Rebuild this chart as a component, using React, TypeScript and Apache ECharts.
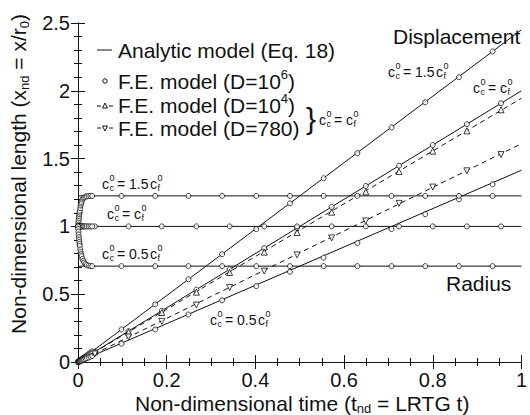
import React, { useEffect, useRef } from "react";
import * as echarts from "echarts";

// ---------- data ----------
const xTicks = [0, 0.2, 0.4, 0.6, 0.8, 1];
const yTicks = [0, 0.5, 1, 1.5, 2, 2.5];

// analytic model (Eq. 18): straight lines over the whole time range
const lineT = [0, 1];
const anaDisp15 = [0, 2.45];
const anaDisp10 = [0, 2.0];
const anaDisp05 = [0, 1.414];
const anaRad15 = [1.225, 1.225];
const anaRad10 = [1.0, 1.0];
const anaRad05 = [0.707, 0.707];

// F.E. sampling times
const tA = [0.098, 0.174, 0.249, 0.325, 0.402, 0.478, 0.554, 0.63, 0.707, 0.783, 0.859, 0.935];
const tB = [0.038, 0.114, 0.189, 0.267, 0.342, 0.42, 0.494, 0.572, 0.649, 0.724, 0.8, 0.877, 0.954];
const tEarly = [0, 0.0005, 0.001, 0.0015, 0.002, 0.0025, 0.003, 0.0035, 0.004, 0.005, 0.006, 0.007, 0.008, 0.01, 0.012, 0.014, 0.017, 0.02, 0.024, 0.028, 0.032];

// F.E. model D=10^6 (circles)
const feDisp15 = [0.24, 0.425, 0.61, 0.795, 0.98, 1.17, 1.355, 1.54, 1.73, 1.915, 2.1, 2.29];
const feDisp10 = [0.076, 0.228, 0.378, 0.534, 0.684, 0.84, 0.988, 1.144, 1.298, 1.448, 1.6, 1.754, 1.908];
const feDisp05 = [0.135, 0.24, 0.35, 0.455, 0.56, 0.665, 0.77, 0.877, 0.98, 1.09, 1.2, 1.31];
const feRad15 = [1.225, 1.225, 1.225, 1.225, 1.225, 1.225, 1.225, 1.225, 1.225, 1.225, 1.225, 1.225];
const feRad10 = [1.0, 1.0, 1.0, 1.0, 1.0, 1.0, 1.0, 1.0, 1.0, 1.0, 1.0, 1.0, 1.0];
const feRad05 = [0.707, 0.707, 0.707, 0.707, 0.707, 0.707, 0.707, 0.707, 0.707, 0.707, 0.707, 0.707];

// early-time F.E. results (dense circles near the origin)
const earlyRad15 = [1.0, 1.015, 1.03, 1.045, 1.06, 1.075, 1.09, 1.102, 1.115, 1.135, 1.155, 1.168, 1.18, 1.197, 1.207, 1.214, 1.219, 1.222, 1.224, 1.225, 1.225];
const earlyRad10 = [1.0, 1.0, 1.0, 1.0, 1.0, 1.0, 1.0, 1.0, 1.0, 1.0, 1.0, 1.0, 1.0, 1.0, 1.0, 1.0, 1.0, 1.0, 1.0, 1.0, 1.0];
const earlyRad05 = [1.0, 0.98, 0.96, 0.94, 0.92, 0.902, 0.885, 0.87, 0.855, 0.83, 0.81, 0.794, 0.78, 0.76, 0.745, 0.733, 0.722, 0.715, 0.71, 0.708, 0.707];
const earlyDisp15 = [0, 0.0012, 0.0025, 0.0037, 0.005, 0.0062, 0.0074, 0.0086, 0.0098, 0.0123, 0.0147, 0.0172, 0.0196, 0.0245, 0.0294, 0.0343, 0.0417, 0.049, 0.0588, 0.0686, 0.0784];
const earlyDisp10 = [0, 0.001, 0.002, 0.003, 0.004, 0.005, 0.006, 0.007, 0.008, 0.01, 0.012, 0.014, 0.016, 0.02, 0.024, 0.028, 0.034, 0.04, 0.048, 0.056, 0.064];
const earlyDisp05 = [0, 0.0007, 0.0014, 0.0021, 0.0028, 0.0035, 0.0042, 0.0049, 0.0056, 0.0071, 0.0085, 0.0099, 0.0113, 0.0141, 0.0169, 0.0197, 0.024, 0.0282, 0.0338, 0.0395, 0.0451];

// F.E. model D=10^4 (triangles) and D=780 (inverted triangles), c_c = c_f
const fe10k = [0.074, 0.22, 0.365, 0.515, 0.66, 0.81, 0.955, 1.105, 1.255, 1.405, 1.555, 1.705, 1.86];
const fe780 = [0.06, 0.185, 0.3, 0.42, 0.55, 0.67, 0.79, 0.915, 1.04, 1.17, 1.29, 1.41, 1.53];
const dash10k = [0, 1.945];
const dash780 = [0, 1.61];

// ---------- helpers ----------
const FONT = "Liberation Sans, Arial, Helvetica, sans-serif";
const zip = (xs: number[], ys: number[]) => xs.map((x, i) => [x, ys[i]]);

let measureCtx: CanvasRenderingContext2D | null = null;
function textWidth(s: string, size: number) {
  if (!measureCtx) measureCtx = document.createElement("canvas").getContext("2d");
  if (!measureCtx) return s.length * size * 0.55;
  measureCtx.font = `${size}px ${FONT}`;
  return measureCtx.measureText(s).width;
}

const lineSeries = (ys: number[], dashed = false) => ({
  type: "line",
  data: zip(lineT, ys),
  symbol: "none",
  lineStyle: { color: "#111", width: 1, type: dashed ? [5, 4] : "solid" },
  z: 2,
});
const markerSeries = (xs: number[], ys: number[], symbol: string, rotate = 0, size = 5) => ({
  type: "scatter",
  data: zip(xs, ys),
  symbol,
  symbolRotate: rotate,
  symbolSize: size,
  itemStyle: { color: "#fff", borderColor: "#111", borderWidth: 1 },
  z: 3,
});

// a run of text pieces, each with its own size and vertical shift (for sup/subscripts)
type Piece = { t: string; size: number; dy?: number };
function textRun(x: number, y: number, pieces: Piece[], rotate = false) {
  const els: any[] = [];
  const total = pieces.reduce((s, p) => s + textWidth(p.t, p.size), 0);
  let cx = rotate ? -total / 2 : 0;
  for (const p of pieces) {
    const dy = p.dy || 0;
    const style = { text: p.t, fontSize: p.size, lineHeight: p.size, fontFamily: FONT, fill: "#111", align: "left", verticalAlign: "middle" };
    if (rotate) {
      els.push({ type: "text", x: x + dy, y: y - cx, rotation: Math.PI / 2, style });
    } else {
      els.push({ type: "text", x: x + cx, y: y + dy, style });
    }
    cx += textWidth(p.t, p.size);
  }
  return els;
}

function cLabel(x: number, y: number, coef: string, sub: string) {
  const fs = 14;
  const sm = 9;
  const els: any[] = [];
  const t = (tx: number, ty: number, text: string, size: number) =>
    els.push({ type: "text", x: tx, y: ty, style: { fontFamily: FONT, fill: "#111", text, fontSize: size, lineHeight: size, align: "left", verticalAlign: "middle" } });
  t(x, y, "c", fs);
  t(x + 7.5, y - 6, "0", sm);
  t(x + 7.5, y + 4, "c", sm);
  const eq = coef ? "= " + coef : "=";
  t(x + 15, y, eq, fs);
  const x2 = coef ? x + 48 : x + 27;
  t(x2, y, "c", fs);
  t(x2 + 7.5, y - 6, "0", sm);
  t(x2 + 7.5, y + 4, sub, sm);
  return els;
}

export default function App() {
  const ref = useRef<HTMLDivElement>(null);
  useEffect(() => {
    if (!ref.current) return;
    const chart = echarts.init(ref.current, undefined, { renderer: "svg" });
    const axisCommon = {
      type: "value",
      axisLine: { show: true, lineStyle: { color: "#111", width: 1 } },
      splitLine: { show: false },
      axisTick: { show: true, inside: true, length: 7, lineStyle: { color: "#111" } },
      minorTick: { show: true, length: 4, lineStyle: { color: "#111" } },
    };
    const labelStyle = { color: "#111", fontSize: 20, lineHeight: 20, fontFamily: FONT };
    const txt = (x: number, y: number, text: string, size = 21, lh = size) => ({
      type: "text",
      x,
      y,
      style: { text, fontSize: size, fontFamily: FONT, fill: "#111", align: "left", verticalAlign: "middle", lineHeight: lh },
    });
    const L = 21;
    const S = 13;

    const graphic: any[] = [
      // legend
      { type: "line", shape: { x1: 97, y1: 50, x2: 112, y2: 50 }, style: { stroke: "#111", lineWidth: 1 } },
      txt(118, 50, "Analytic model (Eq. 18)", L),
      { type: "circle", shape: { cx: 105, cy: 81, r: 2.2 }, style: { fill: "#fff", stroke: "#111", lineWidth: 1 } },
      ...textRun(118, 81, [{ t: "F.E. model (D=10", size: L }, { t: "6", size: S, dy: -7 }, { t: ")", size: L }]),
      { type: "line", shape: { x1: 97, y1: 106, x2: 101, y2: 106 }, style: { stroke: "#111", lineWidth: 1 } },
      { type: "line", shape: { x1: 109, y1: 106, x2: 113, y2: 106 }, style: { stroke: "#111", lineWidth: 1 } },
      { type: "polygon", shape: { points: [[105, 103], [102.5, 108], [107.5, 108]] }, style: { fill: "#fff", stroke: "#111", lineWidth: 1 } },
      ...textRun(118, 105, [{ t: "F.E. model (D=10", size: L }, { t: "4", size: S, dy: -7 }, { t: ")", size: L }]),
      { type: "line", shape: { x1: 97, y1: 128, x2: 101, y2: 128 }, style: { stroke: "#111", lineWidth: 1 } },
      { type: "line", shape: { x1: 109, y1: 128, x2: 113, y2: 128 }, style: { stroke: "#111", lineWidth: 1 } },
      { type: "polygon", shape: { points: [[105, 131], [102.5, 126], [107.5, 126]] }, style: { fill: "#fff", stroke: "#111", lineWidth: 1 } },
      txt(118, 128, "F.E. model (D=780)", L),
      txt(306, 118, "}", 30, 30),
      ...cLabel(319, 120, "", "f"),
      // region labels
      txt(393, 36, "Displacement", 21),
      txt(446, 283, "Radius", 21),
      // curve annotations
      ...cLabel(388, 72, "1.5", "f"),
      ...cLabel(473, 88, "", "f"),
      ...cLabel(102, 184, "1.5", "f"),
      ...cLabel(107, 214, "", "f"),
      ...cLabel(102, 254, "0.5", "f"),
      ...cLabel(210, 320, "0.5", "f"),
      // axis titles
      ...textRun(135, 403, [
        { t: "Non-dimensional time (t", size: 21 },
        { t: "nd", size: S, dy: 5 },
        { t: " = LRTG t)", size: 21 },
      ]),
      ...textRun(18, 174, [
        { t: "Non-dimensional length (x", size: 21 },
        { t: "nd", size: S, dy: 6 },
        { t: " = x/r", size: 21 },
        { t: "0", size: S, dy: 6 },
        { t: ")", size: 21 },
      ], true),
    ];

    chart.setOption({
      animation: false,
      backgroundColor: "#fff",
      grid: { left: 78, right: 5, top: 23, bottom: 53 },
      xAxis: [
        {
          ...axisCommon,
          min: xTicks[0],
          max: xTicks[xTicks.length - 1],
          interval: xTicks[1] - xTicks[0],
          minorTick: { ...axisCommon.minorTick, splitNumber: 4 },
          axisLabel: { ...labelStyle, margin: 8, formatter: (v: number) => String(+v.toFixed(1)) },
        },
        {
          ...axisCommon,
          position: "top",
          min: xTicks[0],
          max: xTicks[xTicks.length - 1],
          interval: xTicks[1] - xTicks[0],
          minorTick: { ...axisCommon.minorTick, splitNumber: 4 },
          axisLabel: { show: false },
        },
      ],
      yAxis: [
        {
          ...axisCommon,
          min: yTicks[0],
          max: yTicks[yTicks.length - 1],
          interval: yTicks[1] - yTicks[0],
          minorTick: { ...axisCommon.minorTick, splitNumber: 5 },
          axisLabel: { ...labelStyle, margin: 8, formatter: (v: number) => String(+v.toFixed(1)) },
        },
        {
          ...axisCommon,
          position: "right",
          min: yTicks[0],
          max: yTicks[yTicks.length - 1],
          interval: yTicks[1] - yTicks[0],
          minorTick: { ...axisCommon.minorTick, splitNumber: 5 },
          axisLabel: { show: false },
        },
      ],
      series: [
        lineSeries(anaDisp15),
        lineSeries(anaDisp10),
        lineSeries(anaDisp05),
        lineSeries(anaRad15),
        lineSeries(anaRad10),
        lineSeries(anaRad05),
        lineSeries(dash10k, true),
        lineSeries(dash780, true),
        markerSeries(tA, feDisp15, "circle"),
        markerSeries(tB, feDisp10, "circle"),
        markerSeries(tA, feDisp05, "circle"),
        markerSeries(tA, feRad15, "circle"),
        markerSeries(tB, feRad10, "circle"),
        markerSeries(tA, feRad05, "circle"),
        markerSeries(tEarly, earlyRad15, "circle"),
        markerSeries(tEarly, earlyRad10, "circle"),
        markerSeries(tEarly, earlyRad05, "circle"),
        markerSeries(tEarly, earlyDisp15, "circle"),
        markerSeries(tEarly, earlyDisp10, "circle"),
        markerSeries(tEarly, earlyDisp05, "circle"),
        markerSeries(tB, fe10k, "triangle", 0, 6),
        markerSeries(tB, fe780, "triangle", 180, 6),
      ],
      graphic,
    });
    return () => chart.dispose();
  }, []);
  return <div ref={ref} style={{ position: "fixed", left: 0, top: 0, width: 530, height: 415, background: "#fff" }} />;
}
